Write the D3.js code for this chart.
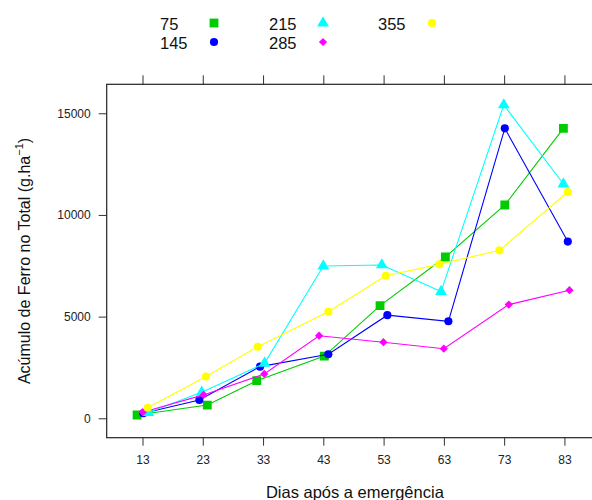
<!DOCTYPE html>
<html>
<head>
<meta charset="utf-8">
<script src="https://cdn.jsdelivr.net/npm/d3@7/dist/d3.min.js"></script>
<style>
  html, body { margin: 0; padding: 0; background: #fff; }
  svg { display: block; font-family: "Liberation Sans", Arial, sans-serif; }
</style>
</head>
<body>
<svg id="chart" width="592" height="500"></svg>
<script>
// Dias após a emergência (sampling days)
const dias = [13, 23, 33, 43, 53, 63, 73, 83];
const diasTicks = [13, 23, 33, 43, 53, 63, 73, 83];
const yTicks = [0, 5000, 10000, 15000];

// Doses (legend labels)
const doses = ["75", "145", "215", "285", "355"];

// Acúmulo de ferro (g/ha) per dose
const ferro75  = [160, 650, 1850, 3060, 5540, 7930, 10490, 14260];
const ferro145 = [250, 900, 2540, 3150, 5070, 4770, 14260, 8690];
const ferro215 = [280, 1280, 2700, 7490, 7540, 6230, 15410, 11520];
const ferro285 = [300, 1150, 2180, 4060, 3740, 3420, 5590, 6300];
const ferro355 = [520, 2050, 3520, 5240, 7010, 7570, 8260, 11130];

// horizontal jitter applied to each point (days)
const jit75  = [-0.90, 0.75, -1.05, 0.17, -0.59, 0.25, 0.11, -0.17];
const jit145 = [0.13, -0.57, -0.50, 0.83, 0.62, 0.75, 0.11, 0.56];
const jit215 = [0.96, -0.18, 0.25, 0.00, -0.30, -0.47, -0.06, -0.17];
const jit285 = [0.03, 0.12, 0.20, -0.70, -0.03, -0.01, 0.77, 0.83];
const jit355 = [0.86, 0.54, -0.88, 0.83, 0.36, -0.75, -0.79, 0.56];

const colors = ["#00CC00", "#0000FF", "#00FFFF", "#FF00FF", "#FFFF00"];
const shapes = ["square", "circle", "triangle", "diamond", "circle"];

const series = [
  { name: doses[0], values: ferro75,  jitter: jit75,  color: colors[0], shape: shapes[0] },
  { name: doses[1], values: ferro145, jitter: jit145, color: colors[1], shape: shapes[1] },
  { name: doses[2], values: ferro215, jitter: jit215, color: colors[2], shape: shapes[2] },
  { name: doses[3], values: ferro285, jitter: jit285, color: colors[3], shape: shapes[3] },
  { name: doses[4], values: ferro355, jitter: jit355, color: colors[4], shape: shapes[4] }
];

const svg = d3.select("#chart");

// panel box
const panel = { left: 106.7, right: 603, top: 84.3, bottom: 437.7 };

const x = d3.scaleLinear().domain([7.06, 89.4]).range([panel.left, panel.right]);
const y = d3.scaleLinear().domain([-955, 16425]).range([panel.bottom, panel.top]);

function symbolPath(shape) {
  if (shape === "square") return d3.symbol(d3.symbolSquare, 78)();
  if (shape === "circle") return d3.symbol(d3.symbolCircle, 52)();
  if (shape === "triangle") return d3.symbol(d3.symbolTriangle, 60)();
  if (shape === "diamond") return d3.symbol(d3.symbolSquare, 34)();
  return d3.symbol(d3.symbolCircle, 52)();
}
function symbolTransform(shape, px, py) {
  return `translate(${px},${py})` + (shape === "diamond" ? " rotate(45)" : "");
}

// axes (lattice style: ticks outside the box, bottom + top on x, left on y)
const axisColor = "#333";
const tickFont = 12;

const xBottom = svg.append("g")
  .attr("transform", `translate(0,${panel.bottom})`)
  .call(d3.axisBottom(x).tickValues(diasTicks).tickSize(8).tickPadding(10).tickFormat(d3.format("d")));
const xTop = svg.append("g")
  .attr("transform", `translate(0,${panel.top})`)
  .call(d3.axisTop(x).tickValues(diasTicks).tickSize(9).tickFormat(""));
const yLeft = svg.append("g")
  .attr("transform", `translate(${panel.left},0)`)
  .call(d3.axisLeft(y).tickValues(yTicks).tickSize(8).tickPadding(8).tickFormat(d3.format("d")));

[xBottom, xTop, yLeft].forEach(g => {
  g.select(".domain").remove();
  g.selectAll(".tick line").attr("stroke", axisColor).attr("stroke-width", 1);
  g.selectAll(".tick text").attr("fill", "#222").style("font-size", tickFont + "px")
    .style("font-family", '"Liberation Sans", Arial, sans-serif');
});

// clip to panel
svg.append("clipPath").attr("id", "panelClip")
  .append("rect")
  .attr("x", panel.left).attr("y", panel.top)
  .attr("width", panel.right - panel.left).attr("height", panel.bottom - panel.top);

const plot = svg.append("g").attr("clip-path", "url(#panelClip)");

const line = d3.line()
  .x(d => x(d.dia))
  .y(d => y(d.v));

series.forEach(s => {
  const pts = dias.map((d, i) => ({ dia: d + s.jitter[i], v: s.values[i] }));
  const g = plot.append("g");
  g.append("path")
    .datum(pts)
    .attr("d", line)
    .attr("fill", "none")
    .attr("stroke", s.color)
    .attr("stroke-width", 1.1);
  g.selectAll("path.pt")
    .data(pts)
    .join("path")
    .attr("class", "pt")
    .attr("d", symbolPath(s.shape))
    .attr("transform", d => symbolTransform(s.shape, x(d.dia), y(d.v)))
    .attr("fill", s.color);
});

// panel border
svg.append("rect")
  .attr("x", panel.left).attr("y", panel.top)
  .attr("width", panel.right - panel.left).attr("height", panel.bottom - panel.top)
  .attr("fill", "none").attr("stroke", "#222").attr("stroke-width", 1.2);

// legend (key on top, 3 columns x 2 rows)
const legendCols = [160, 269, 378];
const legendRows = [29.5, 48.5];
const legendSymDx = 54;
const legend = svg.append("g");
series.forEach((s, i) => {
  const col = Math.floor(i / 2), row = i % 2;
  const lx = legendCols[col], ly = legendRows[row];
  legend.append("text")
    .attr("x", lx).attr("y", ly)
    .style("font-size", "16.5px")
    .attr("fill", "#111")
    .text(s.name);
  legend.append("path")
    .attr("d", symbolPath(s.shape))
    .attr("transform", symbolTransform(s.shape, lx + legendSymDx, ly - 6.5))
    .attr("fill", s.color);
});

// axis titles
svg.append("text")
  .attr("x", (panel.left + panel.right) / 2)
  .attr("y", 498.3)
  .attr("text-anchor", "middle")
  .style("font-size", "16.5px")
  .attr("fill", "#111")
  .text("Dias após a emergência");

const yTitle = svg.append("text")
  .attr("transform", `translate(30,${(panel.top + panel.bottom) / 2}) rotate(-90)`)
  .attr("text-anchor", "middle")
  .style("font-size", "16px")
  .attr("fill", "#111");
yTitle.append("tspan").text("Acúmulo de Ferro no Total (g.ha");
yTitle.append("tspan").attr("dy", -7).style("font-size", "11px").text("−1");
yTitle.append("tspan").attr("dy", 7).text(")");
</script>
</body>
</html>
